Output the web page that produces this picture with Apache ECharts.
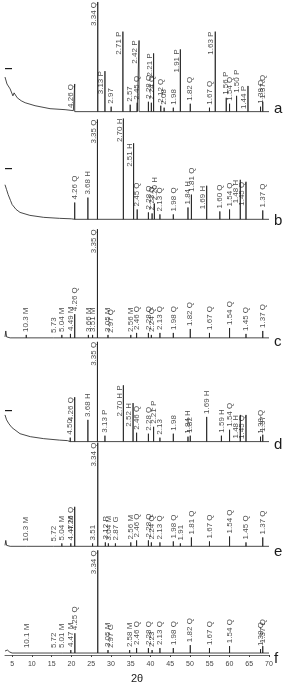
<!DOCTYPE html>
<html>
<head>
<meta charset="utf-8">
<script src="https://cdn.jsdelivr.net/npm/echarts@6/dist/echarts.min.js"></script>
<style>
html, body { margin: 0; padding: 0; background: #fff; }
#chart { width: 288px; height: 689px; }
</style>
</head>
<body>
<div id="chart"></div>
<script>
// 2θ tick labels
const xTicks = [5, 10, 15, 20, 25, 30, 35, 40, 45, 50, 55, 60, 65, 70]
const patternNames = ['a', 'b', 'c', 'd', 'e', 'f']

// low angle background, [2θ, intensity]
const bgA = [[3.2, 35], [3.7, 28], [4.5, 23], [5.2, 16], [5.5, 19], [6.3, 14], [7.3, 11], [8.3, 9], [10.8, 6], [14.6, 3], [18.4, 2], [20.5, 1]]
const bgB = [[3.2, 35], [3.6, 30], [4.0, 25], [4.6, 19], [5.0, 15], [6.0, 10], [7.0, 7], [9.5, 4], [13, 2], [17, 1], [20, 0.5]]
const bgC = [[3.2, 1], [3.4, 7], [3.6, 1], [4.5, 0]]
const bgD = [[3.2, 27], [3.6, 22], [4.2, 18], [5.0, 14], [7.0, 8], [9.6, 5], [13, 3], [17, 1.5], [19, 1]]
const bgE = [[3.2, 1], [3.4, 6], [3.6, 1], [4.5, 0]]
const bgF = [[3.2, 2], [3.8, 3], [4.4, 1], [5, 0]]

// peaks, [2θ, intensity, label (d-spacing + phase)]
const peaksA = [
    [20.84, 28, '4.26 Q'], [26.67, 111, '3.34 Q'], [28.49, 41, '3.13 P'], [30.06, 5, '2.97'],
    [33.03, 81, '2.71 P'], [34.88, 7, '2.57'], [36.65, 9, '2.45 Q'], [37.12, 72, '2.42 P'],
    [39.49, 10, '2.28 Q'], [40.23, 9, '2.24 Q'], [40.80, 59, '2.21 P'], [42.61, 6, '2.12 Q'],
    [43.47, 4, '2.08'], [45.79, 4, '1.98'], [47.57, 63, '1.91 P'], [50.08, 8, '1.82 Q'],
    [54.94, 4, '1.67 Q'], [56.40, 81, '1.63 P'], [59.18, 14, '1.56 P'], [60.02, 8, '1.54 Q'],
    [61.80, 16, '1.50 P'], [64.68, 26, '1.44 P'], [67.86, 5, '1.38 Q'], [68.42, 10, '1.37 Q']
]
const peaksB = [
    [20.84, 17, '4.26 Q'], [24.17, 22, '3.68 H'], [26.59, 101, '3.35 Q'], [33.15, 102, '2.70 H'],
    [35.74, 77, '2.51 H'], [36.65, 10, '2.45 Q'], [39.49, 7, '2.28 Q'], [40.42, 6, '2.23 Q'],
    [41.00, 16, '2.20 H'], [42.40, 5, '2.13 Q'], [45.79, 5, '1.98 Q'], [49.50, 12, '1.84 H'],
    [50.37, 25, '1.81 Q'], [54.23, 34, '1.69 H'], [57.56, 8, '1.60 Q'], [60.02, 10, '1.54 Q'],
    [62.73, 40, '1.48 H'], [64.18, 38, '1.45 Q'], [68.42, 9, '1.37 Q']
]
const peaksC = [
    [8.58, 3, '10.3 M'], [15.45, 2, '5.73'], [17.58, 3, '5.04 M'], [19.76, 4, '4.49 M'],
    [20.84, 24, '4.26 Q'], [24.30, 3, '3.66 M'], [25.36, 3, '3.51 M'], [26.59, 110, '3.35 Q'],
    [29.26, 3, '3.05 M'], [30.06, 2, '2.97 Q'], [35.03, 3, '2.56 M'], [36.50, 5, '2.46 Q'],
    [39.49, 5, '2.28 Q'], [40.23, 3, '2.24 Q'], [42.40, 5, '2.13 Q'], [45.79, 5, '1.98 Q'],
    [50.08, 9, '1.82 Q'], [54.94, 5, '1.67 Q'], [60.02, 10, '1.54 Q'], [64.18, 4, '1.45 Q'],
    [68.42, 7, '1.37 Q']
]
const peaksD = [
    [19.71, 4, '4.50'], [20.84, 45, '4.26 Q'], [24.17, 22, '3.68 H'], [26.59, 101, '3.35 Q'],
    [28.49, 6, '3.13 P'], [33.15, 57, '2.70 H P'], [35.60, 39, '2.52 H'], [36.50, 9, '2.46 Q'],
    [39.49, 8, '2.28 Q'], [40.80, 15, '2.21 P'], [42.40, 4, '2.13'], [45.79, 8, '1.98'],
    [49.50, 5, '1.84 H'], [50.08, 6, '1.82'], [54.23, 25, '1.69 H'], [57.96, 6, '1.59 H'],
    [60.02, 12, '1.54 Q'], [62.73, 27, '1.48 H'], [64.18, 27, '1.45 Q'], [67.86, 5, '1.38 Q'],
    [68.42, 7, '1.37']
]
const peaksE = [
    [8.58, 2, '10.3 M'], [15.48, 2, '5.72'], [17.58, 3, '5.04 M'], [19.85, 3, '4.47 M'],
    [20.84, 40, '4.26 Q'], [25.36, 3, '3.51'], [26.67, 105, '3.34 Q'], [28.59, 4, '3.12 P'],
    [29.36, 3, '3.04 M'], [31.14, 3, '2.87 G'], [35.03, 4, '2.56 M'], [36.50, 6, '2.46 Q'],
    [39.49, 6, '2.28 Q'], [40.23, 4, '2.24 Q'], [42.40, 4, '2.13 Q'], [45.79, 5, '1.98 Q'],
    [47.57, 3, '1.91'], [50.37, 9, '1.81 Q'], [54.94, 5, '1.67 Q'], [60.02, 10, '1.54 Q'],
    [64.18, 4, '1.45 Q'], [68.42, 9, '1.37 Q']
]
const peaksF = [
    [8.75, 2, '10.1 M'], [15.48, 2, '5.72'], [17.69, 2, '5.01 M'], [19.85, 3, '4.47 M'],
    [20.88, 20, '4.25 Q'], [26.67, 104, '3.34 Q'], [29.26, 3, '3.05 M'], [30.06, 2, '2.97 G'],
    [34.74, 3, '2.58 M'], [36.50, 5, '2.46 Q'], [39.49, 5, '2.28 Q'], [40.42, 3, '2.23'],
    [42.40, 5, '2.13 Q'], [45.79, 5, '1.98 Q'], [50.08, 8, '1.82 Q'], [54.94, 5, '1.67 Q'],
    [60.02, 7, '1.54 Q'], [67.86, 4, '1.38 Q'], [68.42, 7, '1.37 Q']
]

const backgrounds = [bgA, bgB, bgC, bgD, bgE, bgF]
const peakLists = [peaksA, peaksB, peaksC, peaksD, peaksE, peaksF]

// vertical stacking of the patterns (1 unit = 1 px)
const offsets = [550, 441, 321, 216, 110, 2]
const xEnd = 70
const font = "'Liberation Sans', Arial, sans-serif"
const ink = '#1a1a1a'

const buildProfile = (bg, peaks, base) => {
    const pts = bg.map(p => [p[0], base + p[1]])
    peaks.forEach(p => {
        pts.push([p[0], base], [p[0], base + p[1]], [p[0], base])
    })
    pts.push([xEnd, base])
    return pts.sort((u, v) => u[0] - v[0])
}

// tall peaks get the label hanging beside the line, small ones above it
const buildLabels = (peaks, base) => peaks.map(p => {
    const hang = p[1] >= 26
    return {
        value: [p[0], base + p[1] + (hang ? 0 : 3)],
        label: {
            formatter: p[2],
            align: hang ? 'right' : 'left',
            verticalAlign: hang ? 'bottom' : 'middle'
        }
    }
})

const series = []
patternNames.forEach((name, i) => {
    series.push({
        name: name,
        type: 'line',
        data: buildProfile(backgrounds[i], peakLists[i], offsets[i]),
        showSymbol: false,
        silent: true,
        lineStyle: { color: ink, width: 0.8 },
        z: 2
    })
    series.push({
        name: name + '-labels',
        type: 'scatter',
        data: buildLabels(peakLists[i], offsets[i]),
        symbolSize: 0,
        silent: true,
        label: {
            show: true,
            position: 'inside',
            rotate: 90,
            fontSize: 8,
            fontFamily: font,
            color: ink
        },
        z: 3
    })
})

const letterY = [110, 222, 343, 446, 553, 660]
const graphics = patternNames.map((name, i) => ({
    type: 'text',
    left: 274,
    top: letterY[i] - 9,
    style: { text: name, font: '15px ' + font, fill: ink }
}))
;[68, 168, 410].forEach(y => {
    graphics.push({
        type: 'rect',
        shape: { x: 5, y: y, width: 7, height: 1.2 },
        style: { fill: ink }
    })
})

const chart = echarts.init(document.getElementById('chart'))
chart.setOption({
    animation: false,
    backgroundColor: '#fff',
    grid: { left: 5, right: 19, top: 0, bottom: 26 },
    xAxis: {
        type: 'value',
        min: 3.2,
        max: xEnd,
        name: '2θ',
        nameLocation: 'middle',
        nameGap: 18,
        nameTextStyle: { fontSize: 11, fontFamily: font, color: ink },
        axisLine: { lineStyle: { color: '#444', width: 0.8 } },
        axisTick: { customValues: xTicks, length: 2, lineStyle: { color: '#444' } },
        axisLabel: { customValues: xTicks, fontSize: 7, fontFamily: font, color: '#444', margin: 6 },
        splitLine: { show: false }
    },
    yAxis: { type: 'value', min: 0, max: 663, show: false },
    graphic: graphics,
    series: series
})
</script>
</body>
</html>
